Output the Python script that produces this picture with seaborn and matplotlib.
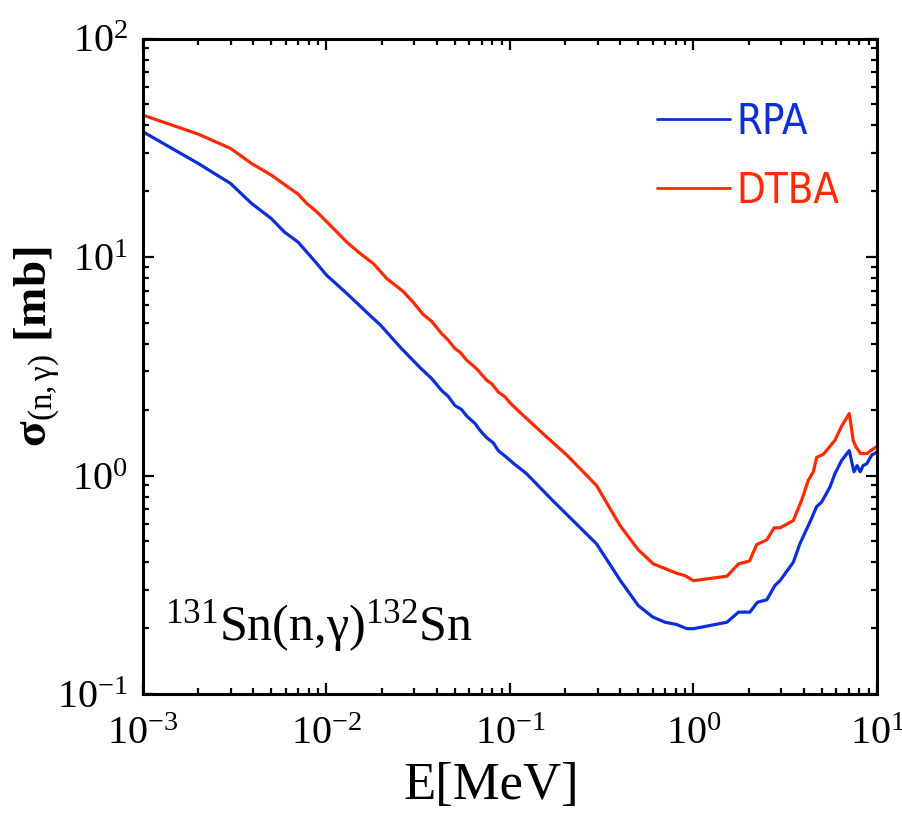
import matplotlib
matplotlib.use("Agg")
import matplotlib.pyplot as plt
import seaborn as sns
import pandas as pd
from matplotlib.ticker import LogLocator, NullFormatter
from matplotlib.lines import Line2D

# Neutron energy grid [MeV] and capture cross sections [mb]
energy_rpa = [0.001, 0.002, 0.003, 0.0039, 0.005, 0.0059, 0.007, 0.0087, 0.010, 0.0129,
              0.0176, 0.0196, 0.0252, 0.0323, 0.0374, 0.0424, 0.0461, 0.0501, 0.0546, 0.0581,
              0.0645, 0.0686, 0.0746, 0.0811, 0.0863, 0.0959, 0.104, 0.123, 0.169, 0.296,
              0.40, 0.50, 0.60, 0.70, 0.81, 0.92, 1.00, 1.52, 1.76, 2.03,
              2.23, 2.51, 2.78, 2.96, 3.50, 3.80, 4.31, 4.69, 4.99, 5.54,
              5.90, 6.41, 7.06, 7.49, 7.79, 8.10, 8.40, 8.78, 9.35, 10.0]
sigma_rpa = [37.4, 26.8, 21.7, 17.6, 15.0, 13.0, 11.7, 9.5, 8.26, 6.81,
             5.32, 4.90, 3.87, 3.12, 2.78, 2.45, 2.30, 2.09, 2.00, 1.87,
             1.73, 1.61, 1.49, 1.41, 1.30, 1.21, 1.14, 1.02, 0.775, 0.487,
             0.33, 0.254, 0.225, 0.213, 0.208, 0.199, 0.199, 0.213, 0.237, 0.237,
             0.263, 0.27, 0.314, 0.33, 0.401, 0.487, 0.612, 0.721, 0.755, 0.885,
             1.02, 1.17, 1.30, 1.04, 1.11, 1.04, 1.11, 1.13, 1.24, 1.28]

energy_dtba = [0.001, 0.002, 0.003, 0.0039, 0.005, 0.007, 0.0078, 0.00885, 0.01045, 0.0129,
               0.0152, 0.018, 0.0213, 0.0262, 0.0297, 0.0337, 0.0374, 0.0424, 0.0461, 0.0501,
               0.0534, 0.0581, 0.0658, 0.0746, 0.0795, 0.0864, 0.094, 0.100, 0.113, 0.1585,
               0.204, 0.296, 0.398, 0.50, 0.604, 0.81, 0.90, 1.00, 1.52, 1.76,
               2.02, 2.21, 2.51, 2.75, 2.96, 3.50, 3.88, 4.22, 4.50, 4.69,
               5.10, 5.90, 6.41, 7.06, 7.43, 7.69, 8.15, 8.78, 9.75, 10.0]
sigma_dtba = [44.6, 36.5, 31.4, 26.8, 23.7, 19.4, 17.6, 16.1, 14.0, 11.7,
              10.4, 9.33, 7.97, 6.95, 6.2, 5.45, 5.08, 4.46, 4.16, 3.81,
              3.67, 3.37, 3.08, 2.73, 2.63, 2.41, 2.29, 2.15, 1.95, 1.50,
              1.24, 0.90, 0.59, 0.457, 0.394, 0.357, 0.348, 0.33, 0.346, 0.394,
              0.406, 0.483, 0.508, 0.576, 0.576, 0.622, 0.769, 0.95, 1.04, 1.21,
              1.25, 1.45, 1.68, 1.92, 1.44, 1.35, 1.26, 1.26, 1.34, 1.36]

models = ["RPA", "DTBA"]
colors = {"RPA": "#0b2fd8", "DTBA": "#ff2a00"}

df = pd.concat([
    pd.DataFrame({"E": energy_rpa, "sigma": sigma_rpa, "model": "RPA"}),
    pd.DataFrame({"E": energy_dtba, "sigma": sigma_dtba, "model": "DTBA"}),
], ignore_index=True)

sns.set_theme(style="ticks")
plt.rcParams["font.family"] = ["Liberation Serif", "DejaVu Serif"]
plt.rcParams["mathtext.fontset"] = "custom"
plt.rcParams["mathtext.rm"] = "Liberation Serif"
plt.rcParams["mathtext.it"] = "Liberation Serif:italic"
plt.rcParams["mathtext.bf"] = "Liberation Serif:bold"
plt.rcParams["axes.unicode_minus"] = False
for key in ["text.color", "axes.labelcolor", "xtick.color", "ytick.color",
            "axes.edgecolor"]:
    plt.rcParams[key] = "black"

fig = plt.figure(figsize=(9.03, 8.15), dpi=100)
ax = fig.add_axes([143 / 903, 1 - 694 / 815, 734 / 903, 655.5 / 815])

sns.lineplot(data=df, x="E", y="sigma", hue="model", hue_order=models,
             palette=colors, estimator=None, sort=False, linewidth=2.3,
             legend=False, ax=ax)

ax.set_xscale("log")
ax.set_yscale("log")
ax.set_xlim(1e-3, 1e1)
ax.set_ylim(1e-1, 1e2)

ax.xaxis.set_major_locator(LogLocator(base=10, numticks=10))
ax.yaxis.set_major_locator(LogLocator(base=10, numticks=10))
ax.xaxis.set_minor_locator(LogLocator(base=10, subs=range(2, 10), numticks=50))
ax.yaxis.set_minor_locator(LogLocator(base=10, subs=range(2, 10), numticks=50))
ax.xaxis.set_minor_formatter(NullFormatter())
ax.yaxis.set_minor_formatter(NullFormatter())

for side in ax.spines.values():
    side.set_linewidth(2.2)
    side.set_color("black")
ax.tick_params(which="both", direction="in", top=True, right=True,
               color="black", width=1.6)
ax.tick_params(which="major", length=8, labelsize=29)
ax.tick_params(axis="x", which="major", pad=16)
ax.tick_params(axis="y", which="major", pad=11)
ax.tick_params(which="minor", length=4.5)
ax.grid(False)

ax.set_xlabel("E[MeV]", fontsize=38)
ax.xaxis.set_label_coords((491 - 143) / 734, -0.103)
ax.set_ylabel(r"σ$_{\mathrm{(n,γ)}}$ [mb]", fontsize=34, fontweight="bold")
ax.yaxis.set_label_coords(-0.11, 0.53)

ax.text(0.03, 0.082, r"$^{131}$Sn(n,γ)$^{132}$Sn", transform=ax.transAxes,
        fontsize=36, ha="left", va="baseline")

handles = [Line2D([], [], color=colors[m], linewidth=2.0) for m in models]
leg = ax.legend(handles, models, loc="upper left", bbox_to_anchor=(0.70, 0.905),
                frameon=False, handlelength=1.75, handletextpad=0.15,
                labelspacing=0.65, borderpad=0, borderaxespad=0,
                prop={"family": "DejaVu Sans", "stretch": "condensed", "size": 30})
for txt, m in zip(leg.get_texts(), models):
    txt.set_color(colors[m])

fig.savefig("out.png", dpi=100)
